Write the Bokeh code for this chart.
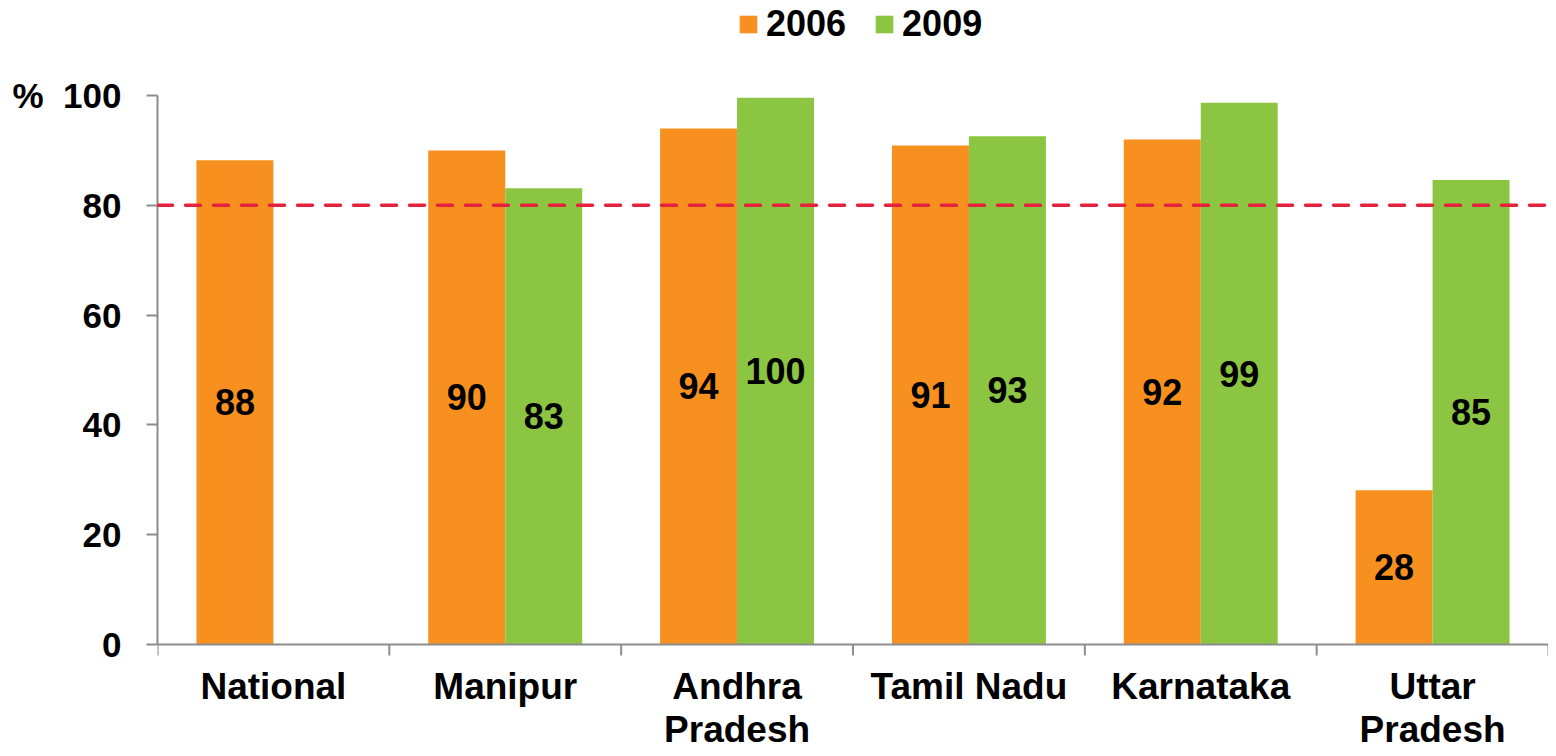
from bokeh.plotting import figure
from bokeh.models import ColumnDataSource, Range1d, FixedTicker, Span, Legend, LegendItem
from bokeh.embed import file_html
from bokeh.resources import INLINE
from bokeh.core.properties import value
import math

categories = ["National", "Manipur", "Andhra\nPradesh", "Tamil Nadu", "Karnataka", "Uttar\nPradesh"]
series_names = ["2006", "2009"]
values_2006 = [88.2, 90.0, 94.0, 90.9, 92.0, 28.1]
values_2009 = [float("nan"), 83.1, 99.6, 92.6, 98.7, 84.6]
target_line = 80
y_ticks = [0, 20, 40, 60, 80, 100]

ORANGE = "#F7901E"
GREEN = "#8BC541"
AXIS = "#8C8C8C"
FONT = "Liberation Sans"

W, H = 1548, 748
LEFT = 157
ZERO_PX, HUNDRED_PX = 644, 95          # pixel rows of y=0 and y=100
scale = (ZERO_PX - HUNDRED_PX) / 100.0
y_top = 100 + HUNDRED_PX / scale
y_bot = -(H - ZERO_PX) / scale

n = len(categories)
bar_w = 0.332
x_2006 = [i + 0.5 - bar_w / 2 for i in range(n)]
x_2009 = [i + 0.5 + bar_w / 2 for i in range(n)]

src06 = ColumnDataSource(dict(x=x_2006, top=values_2006, ymid=[v / 2 for v in values_2006],
                              lab=[str(round(v)) for v in values_2006]))
keep = [i for i in range(n) if not math.isnan(values_2009[i])]
src09 = ColumnDataSource(dict(x=[x_2009[i] for i in keep], top=[values_2009[i] for i in keep],
                              ymid=[values_2009[i] / 2 for i in keep],
                              lab=[str(round(values_2009[i])) for i in keep]))
src_tick = ColumnDataSource(dict(x=list(range(n + 1)), y=[0] * (n + 1)))

p = figure(width=W, height=H, output_backend="svg", toolbar_location=None,
           x_range=Range1d(0, n), y_range=Range1d(y_bot, y_top),
           min_border_left=LEFT, min_border_right=0, min_border_top=0, min_border_bottom=0)
p.outline_line_color = None
p.xgrid.visible = False
p.ygrid.visible = False
p.xaxis.visible = False
p.background_fill_color = "white"

r06 = p.vbar(x="x", top="top", width=bar_w, bottom=0, source=src06, fill_color=ORANGE, line_color=None)
r09 = p.vbar(x="x", top="top", width=bar_w, bottom=0, source=src09, fill_color=GREEN, line_color=None)

for src in (src06, src09):
    p.text(x="x", y="ymid", text="lab", source=src, text_align="center", text_baseline="middle",
           text_font=value(FONT), text_font_style="bold", text_font_size="36px", text_color="black")

p.add_layout(Span(location=target_line, dimension="width", line_color="#E5213D", line_width=3.5,
                  line_dash="15 13", line_cap="round"))

# x axis baseline, boundary ticks and category labels (one glyph per label line)
p.add_layout(Span(location=0, dimension="width", line_color=AXIS, line_width=2))
p.ray(x="x", y="y", source=src_tick, length=11, length_units="screen", angle=-math.pi / 2,
      line_color=AXIS, line_width=2)
split = [c.split("\n") for c in categories]
for k in range(max(len(s) for s in split)):
    idx = [i for i in range(n) if len(split[i]) > k]
    src_line = ColumnDataSource(dict(x=[i + 0.5 for i in idx], y=[0] * len(idx),
                                     text=[split[i][k] for i in idx]))
    p.text(x="x", y="y", text="text", source=src_line, y_offset=21 + 43 * k,
           text_align="center", text_baseline="top",
           text_font=value(FONT), text_font_style="bold", text_font_size="37px", text_color="black")

# y axis
ya = p.yaxis[0]
ya.ticker = FixedTicker(ticks=y_ticks)
ya.bounds = (0, 100)
ya.axis_line_color = AXIS
ya.axis_line_width = 2
ya.major_tick_line_color = AXIS
ya.major_tick_line_width = 2
ya.major_tick_out = 11
ya.major_tick_in = 0
ya.minor_tick_line_color = None
ya.major_label_text_font = FONT
ya.major_label_text_font_style = "bold"
ya.major_label_text_font_size = "35px"
ya.major_label_text_color = "black"
ya.major_label_standoff = 25
ya.major_label_overrides = {100: "%\u00a0\u00a0100"}

legend = Legend(items=[LegendItem(label=series_names[0], renderers=[r06]),
                       LegendItem(label=series_names[1], renderers=[r09])],
                orientation="horizontal", location=(580, 703),
                glyph_width=22, glyph_height=22, label_standoff=7, spacing=27,
                padding=0, margin=0, border_line_color=None, background_fill_alpha=0,
                label_text_font=FONT, label_text_font_style="bold", label_text_font_size="36px",
                label_text_color="black")
p.add_layout(legend)

open("out.html", "w").write(file_html(p, INLINE))
